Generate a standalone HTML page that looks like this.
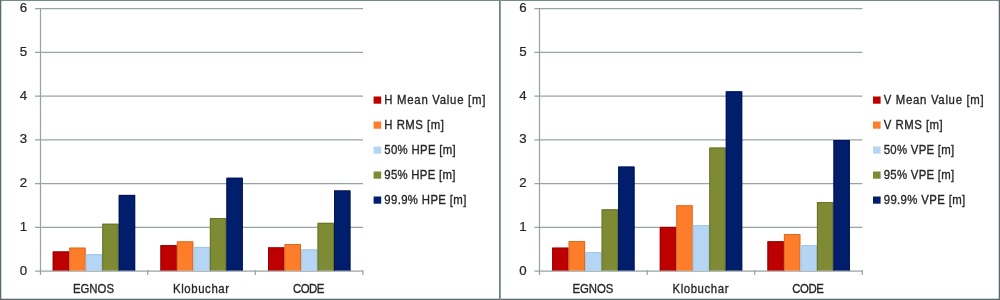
<!DOCTYPE html>
<html><head><meta charset="utf-8"><style>
html,body{margin:0;padding:0;background:#fff;}
body{width:1000px;height:300px;overflow:hidden;}
#w{width:1000px;height:300px;will-change:transform;}
svg{display:block;font-family:"Liberation Sans", sans-serif;font-size:12px;fill:#262626;}
text{stroke:#262626;stroke-width:0.32px;}
text.d{stroke-width:0.2px;}
</style></head><body>
<div id="w"><svg width="1000" height="300" viewBox="0 0 1000 300">
<g>
<rect x="0" y="0" width="1000" height="300" fill="#ffffff"/>
<line x1="35" y1="8.5" x2="363.0" y2="8.5" stroke="#98a3a3" stroke-width="1.25"/>
<line x1="35" y1="52.25" x2="363.0" y2="52.25" stroke="#98a3a3" stroke-width="1.25"/>
<line x1="35" y1="96.0" x2="363.0" y2="96.0" stroke="#98a3a3" stroke-width="1.25"/>
<line x1="35" y1="139.75" x2="363.0" y2="139.75" stroke="#98a3a3" stroke-width="1.25"/>
<line x1="35" y1="183.5" x2="363.0" y2="183.5" stroke="#98a3a3" stroke-width="1.25"/>
<line x1="35" y1="227.25" x2="363.0" y2="227.25" stroke="#98a3a3" stroke-width="1.25"/>
<line x1="35" y1="271.0" x2="363.0" y2="271.0" stroke="#98a3a3" stroke-width="1.25"/>
<line x1="40.5" y1="8.0" x2="40.5" y2="275" stroke="#98a3a3" stroke-width="1.25"/>
<line x1="147.77" y1="270" x2="147.76666666666668" y2="275" stroke="#98a3a3" stroke-width="1.25"/>
<line x1="255.33" y1="270" x2="255.33333333333334" y2="275" stroke="#98a3a3" stroke-width="1.25"/>
<line x1="362.90" y1="270" x2="362.9" y2="275" stroke="#98a3a3" stroke-width="1.25"/>
<rect x="52.70" y="251.40" width="16.50" height="19.20" fill="#bd0000"/>
<path d="M53.20 270.60V251.90H68.70V270.60" fill="none" stroke="#8c0000" stroke-opacity="0.7" stroke-width="1"/>
<rect x="69.20" y="247.60" width="16.50" height="23.00" fill="#fe7d2b"/>
<path d="M69.70 270.60V248.10H85.20V270.60" fill="none" stroke="#d0621c" stroke-opacity="0.7" stroke-width="1"/>
<rect x="85.70" y="254.10" width="16.50" height="16.50" fill="#b4d5f3"/>
<path d="M86.20 270.60V254.60H101.70V270.60" fill="none" stroke="#9ebfdf" stroke-opacity="0.7" stroke-width="1"/>
<rect x="102.20" y="223.70" width="16.50" height="46.90" fill="#7f8a35"/>
<path d="M102.70 270.60V224.20H118.20V270.60" fill="none" stroke="#5e6a20" stroke-opacity="0.7" stroke-width="1"/>
<rect x="118.70" y="194.90" width="16.50" height="75.70" fill="#011e6c"/>
<path d="M119.20 270.60V195.40H134.70V270.60" fill="none" stroke="#00104a" stroke-opacity="0.7" stroke-width="1"/>
<rect x="160.35" y="245.10" width="16.50" height="25.50" fill="#bd0000"/>
<path d="M160.85 270.60V245.60H176.35V270.60" fill="none" stroke="#8c0000" stroke-opacity="0.7" stroke-width="1"/>
<rect x="176.85" y="241.30" width="16.50" height="29.30" fill="#fe7d2b"/>
<path d="M177.35 270.60V241.80H192.85V270.60" fill="none" stroke="#d0621c" stroke-opacity="0.7" stroke-width="1"/>
<rect x="193.35" y="246.90" width="16.50" height="23.70" fill="#b4d5f3"/>
<path d="M193.85 270.60V247.40H209.35V270.60" fill="none" stroke="#9ebfdf" stroke-opacity="0.7" stroke-width="1"/>
<rect x="209.85" y="218.00" width="16.50" height="52.60" fill="#7f8a35"/>
<path d="M210.35 270.60V218.50H225.85V270.60" fill="none" stroke="#5e6a20" stroke-opacity="0.7" stroke-width="1"/>
<rect x="226.35" y="177.70" width="16.50" height="92.90" fill="#011e6c"/>
<path d="M226.85 270.60V178.20H242.35V270.60" fill="none" stroke="#00104a" stroke-opacity="0.7" stroke-width="1"/>
<rect x="268.00" y="247.30" width="16.50" height="23.30" fill="#bd0000"/>
<path d="M268.50 270.60V247.80H284.00V270.60" fill="none" stroke="#8c0000" stroke-opacity="0.7" stroke-width="1"/>
<rect x="284.50" y="244.00" width="16.50" height="26.60" fill="#fe7d2b"/>
<path d="M285.00 270.60V244.50H300.50V270.60" fill="none" stroke="#d0621c" stroke-opacity="0.7" stroke-width="1"/>
<rect x="301.00" y="249.30" width="16.50" height="21.30" fill="#b4d5f3"/>
<path d="M301.50 270.60V249.80H317.00V270.60" fill="none" stroke="#9ebfdf" stroke-opacity="0.7" stroke-width="1"/>
<rect x="317.50" y="222.80" width="16.50" height="47.80" fill="#7f8a35"/>
<path d="M318.00 270.60V223.30H333.50V270.60" fill="none" stroke="#5e6a20" stroke-opacity="0.7" stroke-width="1"/>
<rect x="334.00" y="190.40" width="16.50" height="80.20" fill="#011e6c"/>
<path d="M334.50 270.60V190.90H350.00V270.60" fill="none" stroke="#00104a" stroke-opacity="0.7" stroke-width="1"/>
<text x="27.2" y="12.1" text-anchor="end" textLength="7.4" lengthAdjust="spacingAndGlyphs" class="d">6</text>
<text x="27.2" y="55.9" text-anchor="end" textLength="7.4" lengthAdjust="spacingAndGlyphs" class="d">5</text>
<text x="27.2" y="99.6" text-anchor="end" textLength="7.4" lengthAdjust="spacingAndGlyphs" class="d">4</text>
<text x="27.2" y="143.3" text-anchor="end" textLength="7.4" lengthAdjust="spacingAndGlyphs" class="d">3</text>
<text x="27.2" y="187.1" text-anchor="end" textLength="7.4" lengthAdjust="spacingAndGlyphs" class="d">2</text>
<text x="27.2" y="230.8" text-anchor="end" textLength="7.4" lengthAdjust="spacingAndGlyphs" class="d">1</text>
<text x="27.2" y="274.6" text-anchor="end" textLength="7.4" lengthAdjust="spacingAndGlyphs" class="d">0</text>
<text transform="translate(93.48 0) scale(0.95 1)" x="0" y="292.7" text-anchor="middle" textLength="43.16" lengthAdjust="spacing">EGNOS</text>
<text transform="translate(201.05 0) scale(0.95 1)" x="0" y="292.7" text-anchor="middle" textLength="58.95" lengthAdjust="spacing">Klobuchar</text>
<text transform="translate(308.62 0) scale(0.95 1)" x="0" y="292.7" text-anchor="middle" textLength="33.16" lengthAdjust="spacing">CODE</text>
<rect x="373.60" y="96.5" width="7.6" height="7.2" fill="#bd0000"/>
<text transform="translate(384.30 0) scale(0.95 1)" x="0" y="103.8" textLength="106.32" lengthAdjust="spacing">H Mean Value [m]</text>
<rect x="373.60" y="121.5" width="7.6" height="7.2" fill="#fe7d2b"/>
<text transform="translate(384.30 0) scale(0.95 1)" x="0" y="128.8" textLength="62.63" lengthAdjust="spacing">H RMS [m]</text>
<rect x="373.60" y="146.5" width="7.6" height="7.2" fill="#b4d5f3"/>
<text transform="translate(384.30 0) scale(0.95 1)" x="0" y="153.8" textLength="75.26" lengthAdjust="spacing">50% HPE [m]</text>
<rect x="373.60" y="171.5" width="7.6" height="7.2" fill="#7f8a35"/>
<text transform="translate(384.30 0) scale(0.95 1)" x="0" y="178.8" textLength="74.74" lengthAdjust="spacing">95% HPE [m]</text>
<rect x="373.60" y="196.5" width="7.6" height="7.2" fill="#011e6c"/>
<text transform="translate(384.30 0) scale(0.95 1)" x="0" y="203.8" textLength="86.32" lengthAdjust="spacing">99.9% HPE [m]</text>
<line x1="534.4" y1="8.5" x2="862.4" y2="8.5" stroke="#98a3a3" stroke-width="1.25"/>
<line x1="534.4" y1="52.25" x2="862.4" y2="52.25" stroke="#98a3a3" stroke-width="1.25"/>
<line x1="534.4" y1="96.0" x2="862.4" y2="96.0" stroke="#98a3a3" stroke-width="1.25"/>
<line x1="534.4" y1="139.75" x2="862.4" y2="139.75" stroke="#98a3a3" stroke-width="1.25"/>
<line x1="534.4" y1="183.5" x2="862.4" y2="183.5" stroke="#98a3a3" stroke-width="1.25"/>
<line x1="534.4" y1="227.25" x2="862.4" y2="227.25" stroke="#98a3a3" stroke-width="1.25"/>
<line x1="534.4" y1="271.0" x2="862.4" y2="271.0" stroke="#98a3a3" stroke-width="1.25"/>
<line x1="539.5" y1="8.0" x2="539.5" y2="275" stroke="#98a3a3" stroke-width="1.25"/>
<line x1="647.17" y1="270" x2="647.1666666666666" y2="275" stroke="#98a3a3" stroke-width="1.25"/>
<line x1="754.73" y1="270" x2="754.7333333333332" y2="275" stroke="#98a3a3" stroke-width="1.25"/>
<line x1="862.30" y1="270" x2="862.3" y2="275" stroke="#98a3a3" stroke-width="1.25"/>
<rect x="552.10" y="247.60" width="16.50" height="23.00" fill="#bd0000"/>
<path d="M552.60 270.60V248.10H568.10V270.60" fill="none" stroke="#8c0000" stroke-opacity="0.7" stroke-width="1"/>
<rect x="568.60" y="241.00" width="16.50" height="29.60" fill="#fe7d2b"/>
<path d="M569.10 270.60V241.50H584.60V270.60" fill="none" stroke="#d0621c" stroke-opacity="0.7" stroke-width="1"/>
<rect x="585.10" y="252.10" width="16.50" height="18.50" fill="#b4d5f3"/>
<path d="M585.60 270.60V252.60H601.10V270.60" fill="none" stroke="#9ebfdf" stroke-opacity="0.7" stroke-width="1"/>
<rect x="601.60" y="209.25" width="16.50" height="61.35" fill="#7f8a35"/>
<path d="M602.10 270.60V209.75H617.60V270.60" fill="none" stroke="#5e6a20" stroke-opacity="0.7" stroke-width="1"/>
<rect x="618.10" y="166.50" width="16.50" height="104.10" fill="#011e6c"/>
<path d="M618.60 270.60V167.00H634.10V270.60" fill="none" stroke="#00104a" stroke-opacity="0.7" stroke-width="1"/>
<rect x="659.75" y="226.90" width="16.50" height="43.70" fill="#bd0000"/>
<path d="M660.25 270.60V227.40H675.75V270.60" fill="none" stroke="#8c0000" stroke-opacity="0.7" stroke-width="1"/>
<rect x="676.25" y="205.20" width="16.50" height="65.40" fill="#fe7d2b"/>
<path d="M676.75 270.60V205.70H692.25V270.60" fill="none" stroke="#d0621c" stroke-opacity="0.7" stroke-width="1"/>
<rect x="692.75" y="225.00" width="16.50" height="45.60" fill="#b4d5f3"/>
<path d="M693.25 270.60V225.50H708.75V270.60" fill="none" stroke="#9ebfdf" stroke-opacity="0.7" stroke-width="1"/>
<rect x="709.25" y="147.50" width="16.50" height="123.10" fill="#7f8a35"/>
<path d="M709.75 270.60V148.00H725.25V270.60" fill="none" stroke="#5e6a20" stroke-opacity="0.7" stroke-width="1"/>
<rect x="725.75" y="91.25" width="16.50" height="179.35" fill="#011e6c"/>
<path d="M726.25 270.60V91.75H741.75V270.60" fill="none" stroke="#00104a" stroke-opacity="0.7" stroke-width="1"/>
<rect x="767.40" y="241.20" width="16.50" height="29.40" fill="#bd0000"/>
<path d="M767.90 270.60V241.70H783.40V270.60" fill="none" stroke="#8c0000" stroke-opacity="0.7" stroke-width="1"/>
<rect x="783.90" y="234.00" width="16.50" height="36.60" fill="#fe7d2b"/>
<path d="M784.40 270.60V234.50H799.90V270.60" fill="none" stroke="#d0621c" stroke-opacity="0.7" stroke-width="1"/>
<rect x="800.40" y="245.10" width="16.50" height="25.50" fill="#b4d5f3"/>
<path d="M800.90 270.60V245.60H816.40V270.60" fill="none" stroke="#9ebfdf" stroke-opacity="0.7" stroke-width="1"/>
<rect x="816.90" y="202.00" width="16.50" height="68.60" fill="#7f8a35"/>
<path d="M817.40 270.60V202.50H832.90V270.60" fill="none" stroke="#5e6a20" stroke-opacity="0.7" stroke-width="1"/>
<rect x="833.40" y="140.00" width="16.50" height="130.60" fill="#011e6c"/>
<path d="M833.90 270.60V140.50H849.40V270.60" fill="none" stroke="#00104a" stroke-opacity="0.7" stroke-width="1"/>
<text x="526.6" y="12.1" text-anchor="end" textLength="7.4" lengthAdjust="spacingAndGlyphs" class="d">6</text>
<text x="526.6" y="55.9" text-anchor="end" textLength="7.4" lengthAdjust="spacingAndGlyphs" class="d">5</text>
<text x="526.6" y="99.6" text-anchor="end" textLength="7.4" lengthAdjust="spacingAndGlyphs" class="d">4</text>
<text x="526.6" y="143.3" text-anchor="end" textLength="7.4" lengthAdjust="spacingAndGlyphs" class="d">3</text>
<text x="526.6" y="187.1" text-anchor="end" textLength="7.4" lengthAdjust="spacingAndGlyphs" class="d">2</text>
<text x="526.6" y="230.8" text-anchor="end" textLength="7.4" lengthAdjust="spacingAndGlyphs" class="d">1</text>
<text x="526.6" y="274.6" text-anchor="end" textLength="7.4" lengthAdjust="spacingAndGlyphs" class="d">0</text>
<text transform="translate(592.88 0) scale(0.95 1)" x="0" y="292.7" text-anchor="middle" textLength="43.16" lengthAdjust="spacing">EGNOS</text>
<text transform="translate(700.45 0) scale(0.95 1)" x="0" y="292.7" text-anchor="middle" textLength="58.95" lengthAdjust="spacing">Klobuchar</text>
<text transform="translate(808.02 0) scale(0.95 1)" x="0" y="292.7" text-anchor="middle" textLength="33.16" lengthAdjust="spacing">CODE</text>
<rect x="873.00" y="96.5" width="7.6" height="7.2" fill="#bd0000"/>
<text transform="translate(883.70 0) scale(0.95 1)" x="0" y="103.8" textLength="105.26" lengthAdjust="spacing">V Mean Value [m]</text>
<rect x="873.00" y="121.5" width="7.6" height="7.2" fill="#fe7d2b"/>
<text transform="translate(883.70 0) scale(0.95 1)" x="0" y="128.8" textLength="62.11" lengthAdjust="spacing">V RMS [m]</text>
<rect x="873.00" y="146.5" width="7.6" height="7.2" fill="#b4d5f3"/>
<text transform="translate(883.70 0) scale(0.95 1)" x="0" y="153.8" textLength="74.21" lengthAdjust="spacing">50% VPE [m]</text>
<rect x="873.00" y="171.5" width="7.6" height="7.2" fill="#7f8a35"/>
<text transform="translate(883.70 0) scale(0.95 1)" x="0" y="178.8" textLength="74.21" lengthAdjust="spacing">95% VPE [m]</text>
<rect x="873.00" y="196.5" width="7.6" height="7.2" fill="#011e6c"/>
<text transform="translate(883.70 0) scale(0.95 1)" x="0" y="203.8" textLength="85.79" lengthAdjust="spacing">99.9% VPE [m]</text>
</g>
<rect x="0" y="0" width="1000" height="1" fill="#768987"/>
<rect x="0" y="299" width="1000" height="1" fill="#5a6e6c"/>
<rect x="0" y="298" width="1000" height="1" fill="#5a6e6c" fill-opacity="0.3"/>
<rect x="0" y="0" width="1" height="300" fill="#5a6e6c"/>
<rect x="1" y="0" width="1" height="300" fill="#5a6e6c" fill-opacity="0.3"/>
<rect x="999" y="0" width="1" height="300" fill="#5a6e6c"/>
<rect x="998" y="0" width="1" height="300" fill="#5a6e6c" fill-opacity="0.3"/>
<rect x="499" y="0" width="1" height="300" fill="#728282"/>
<rect x="500" y="0" width="1" height="300" fill="#8e9c9c"/>
</svg></div>
</body></html>
